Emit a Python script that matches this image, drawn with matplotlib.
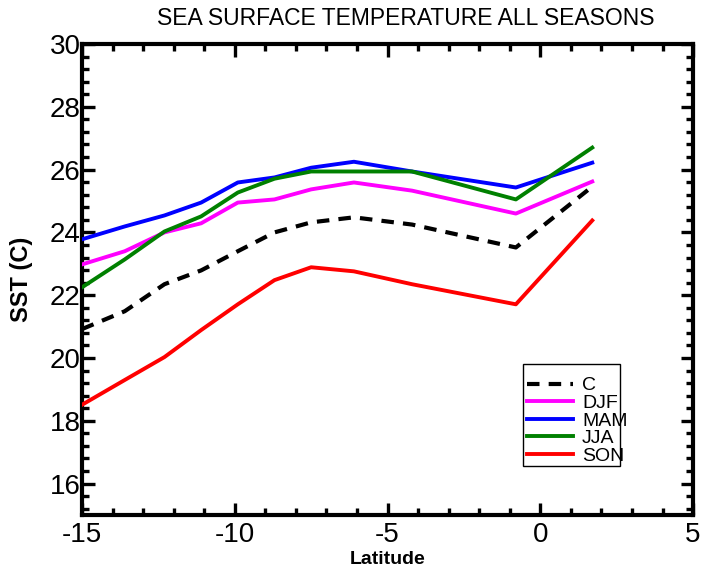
"""Seasonal SST along a latitude section."""

import matplotlib

matplotlib.use("Agg")
import matplotlib.pyplot as plt
from matplotlib.patches import Rectangle
from matplotlib.ticker import MultipleLocator

plt.rcParams["font.family"] = ["Liberation Sans", "DejaVu Sans"]
plt.rcParams["axes.unicode_minus"] = False

# ------------------------------------------------------------------ data
latitude = [-15.0, -13.6, -12.3, -11.1, -9.9, -8.7, -7.5, -6.1, -4.2, -0.8, 1.7]

sst_clim = [20.92, 21.49, 22.35, 22.79, 23.40, 24.00, 24.32, 24.48, 24.25, 23.52, 25.46]
sst_djf = [22.98, 23.40, 24.00, 24.29, 24.95, 25.05, 25.37, 25.59, 25.33, 24.60, 25.62]
sst_mam = [23.78, 24.19, 24.54, 24.95, 25.59, 25.75, 26.06, 26.25, 25.94, 25.43, 26.22]
sst_jja = [22.25, 23.14, 24.03, 24.51, 25.27, 25.71, 25.94, 25.94, 25.94, 25.05, 26.70]
sst_son = [18.51, 19.30, 20.03, 20.89, 21.71, 22.48, 22.89, 22.76, 22.35, 21.71, 24.38]

labels = ["C", "DJF", "MAM", "JJA", "SON"]
colors = ["black", "#ff00ff", "#0000ff", "#008000", "#ff0000"]

x_ticks = [-15, -10, -5, 0, 5]
y_ticks = [16, 18, 20, 22, 24, 26, 28, 30]

# ------------------------------------------------------------------ figure
fig = plt.figure(figsize=(7.16, 5.67), dpi=100)
ax = fig.add_axes([0.1145, 0.0917, 0.8535, 0.8307])

series = [sst_clim, sst_djf, sst_mam, sst_jja, sst_son]
for vals, lab, col in zip(series, labels, colors):
    if lab == "C":
        ax.plot(latitude, vals, color=col, lw=3.0, dashes=(3, 2.2),
                dash_capstyle="butt", label=lab, zorder=3)
    else:
        ax.plot(latitude, vals, color=col, lw=2.8, label=lab, zorder=3)

ax.set_xlim(-15, 5)
ax.set_ylim(15, 30)
ax.set_xticks(x_ticks)
ax.set_yticks(y_ticks)
ax.xaxis.set_minor_locator(MultipleLocator(1))
ax.yaxis.set_minor_locator(MultipleLocator(0.4))

for s in ax.spines.values():
    s.set_linewidth(3.0)
ax.tick_params(which="both", direction="in", top=True, right=True, width=2.4)
ax.tick_params(which="major", length=9, labelsize=20, pad=5)
ax.tick_params(which="minor", length=5)
ax.tick_params(axis="y", pad=1)

ax.set_xlabel("Latitude", fontsize=14, fontweight="bold", labelpad=2)
ax.set_ylabel("SST (C)", fontsize=17, fontweight="bold", labelpad=12)

fig.text(0.566, 0.967, "SEA SURFACE TEMPERATURE ALL SEASONS",
         ha="center", va="center", fontsize=16.5)

# legend: thin box that the labels spill out of
ax.add_patch(Rectangle((0.722, 0.105), 0.159, 0.215, transform=ax.transAxes,
                       fill=False, edgecolor="black", lw=1.0, zorder=4))
ax.legend(loc="upper left", bbox_to_anchor=(0.715, 0.31), frameon=False,
          fontsize=14, handlelength=2.4, handletextpad=0.45,
          labelspacing=0.0, borderaxespad=0.0)

fig.savefig("out.png", dpi=100)
